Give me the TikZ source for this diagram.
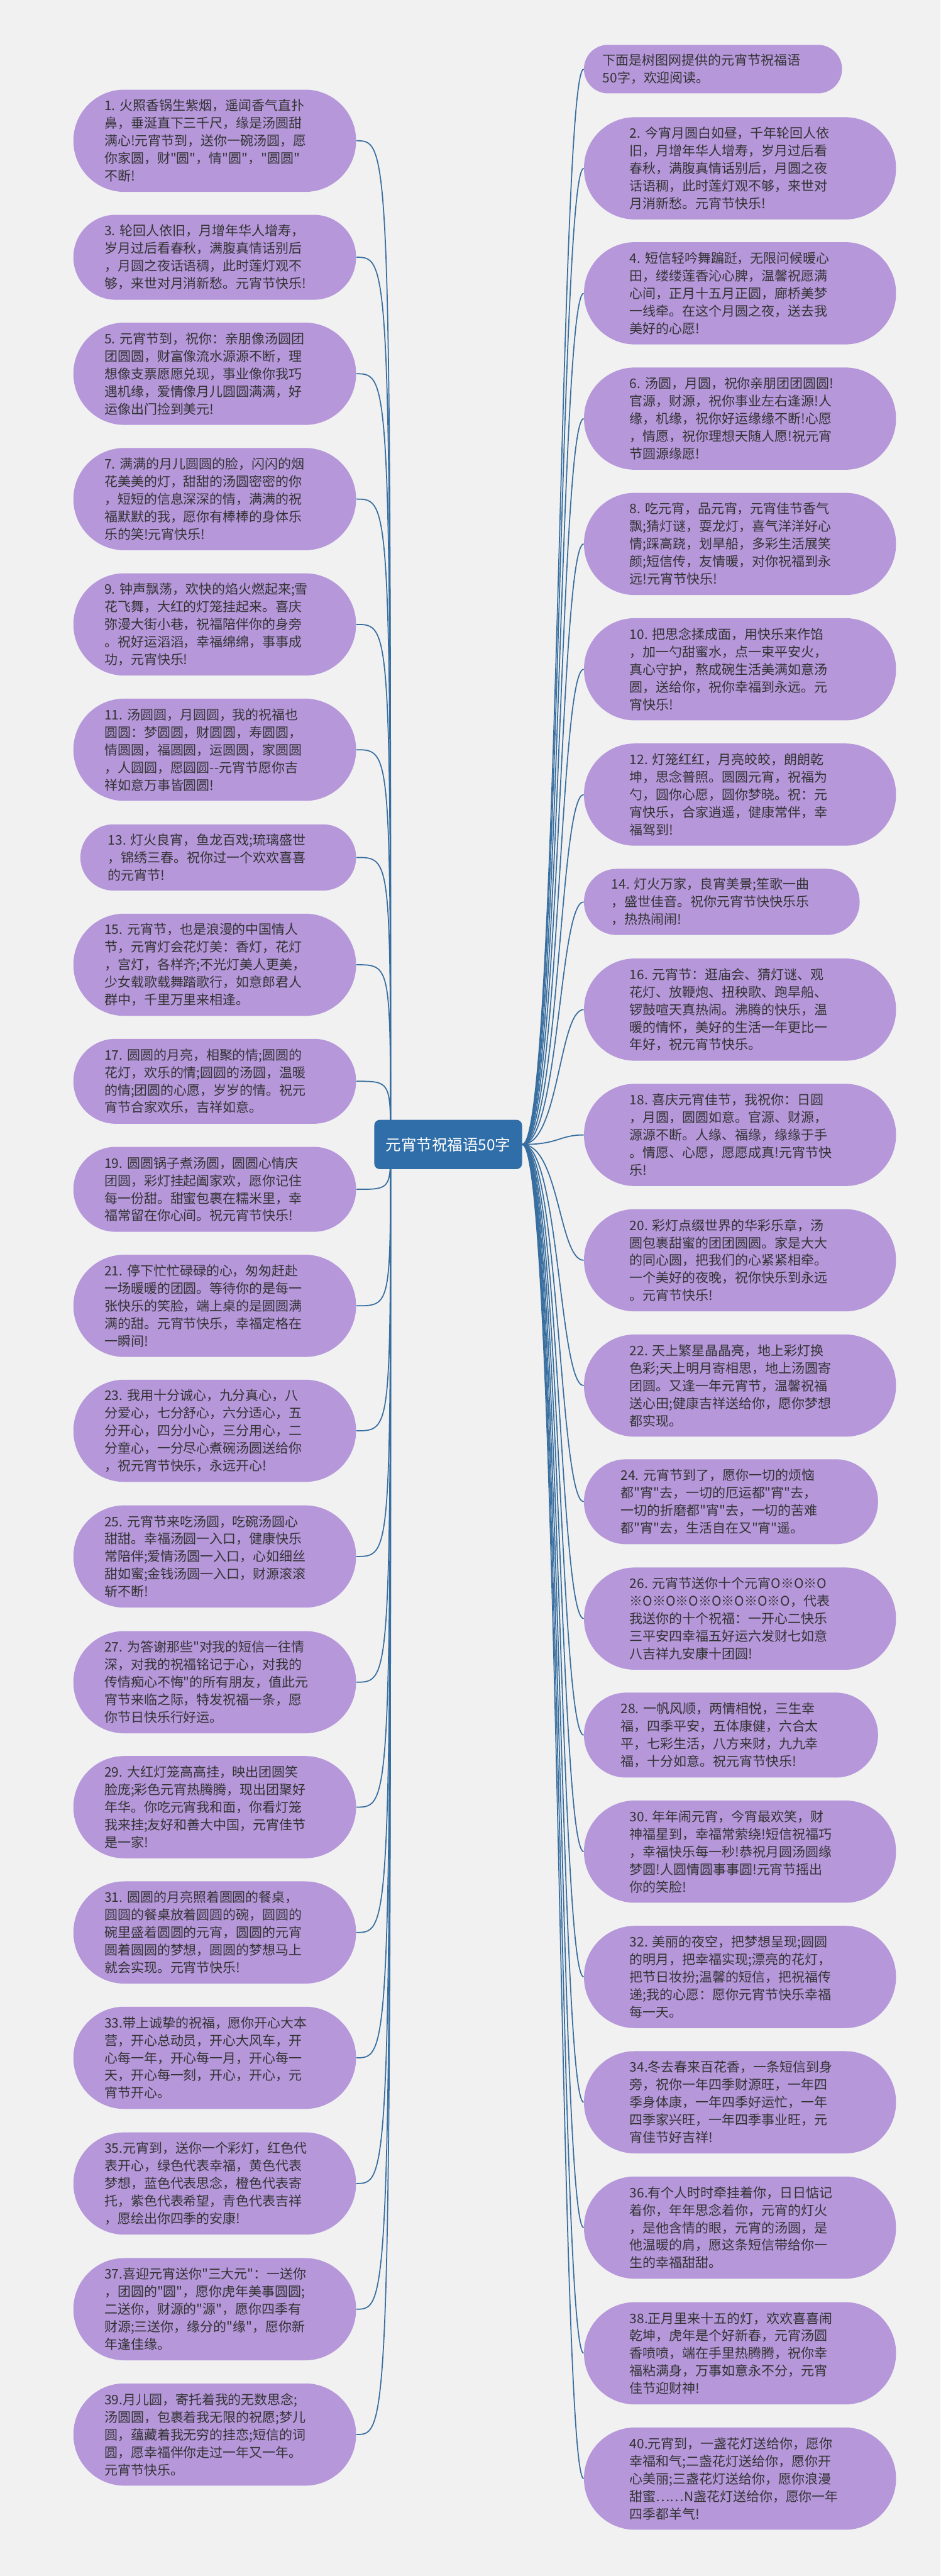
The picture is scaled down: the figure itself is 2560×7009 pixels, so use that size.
\documentclass[tikz,border=0pt]{standalone}
\usepackage{fontspec}
\setmainfont{Noto Sans CJK SC}[Ligatures=TeXOff]
\usetikzlibrary{backgrounds}
\definecolor{pagebg}{HTML}{F1F1F1}
\definecolor{wishfill}{HTML}{B597DA}
\definecolor{wishtext}{HTML}{333333}
\definecolor{rootblue}{HTML}{2F6EA8}
\definecolor{linkblue}{HTML}{386E9F}
\newcommand{\wishsize}{\fontsize{10.2pt}{13.6pt}\selectfont}
\newcommand{\rootsize}{\fontsize{11.9pt}{14pt}\selectfont}
\tikzset{
  wish/.style={rectangle, fill=wishfill, text=wishtext, text width=6cm, align=left, inner sep=0pt, font=\wishsize},
  lwish/.style={wish, anchor=east, minimum width=7.69cm},
  rwish/.style={wish, anchor=west, minimum width=8.49cm},
  twolines/.style={minimum height=1.32cm, rounded corners=0.655cm},
  threelines/.style={minimum height=1.8cm, rounded corners=0.895cm},
  fourlines/.style={minimum height=2.31cm, rounded corners=1.15cm},
  fivelines/.style={minimum height=2.78cm, rounded corners=1.385cm},
  root/.style={rectangle, rounded corners=0.15cm, fill=rootblue, text=white, minimum width=4.02cm, minimum height=1.34cm, font=\rootsize},
  link/.style={draw=linkblue, line width=0.03cm},
}

\begin{document}
\begin{tikzpicture}[x=0.01cm, y=-0.01cm]
    \useasboundingbox (0,0) rectangle (2560,7009);

    \node[root] (root) at (1220,3114) {元宵节祝福语50字};
    \coordinate (lhub) at ([xshift=0.45cm]root.west);
    \coordinate (rhub) at ([xshift=1cm]root.east);

    % left side
    \node[lwish, fivelines] (l1) at (970,383) {1.~火照香锅生紫烟，遥闻香气直扑\\鼻，垂涎直下三千尺，缘是汤圆甜\\满心!元宵节到，送你一碗汤圆，愿\\你家圆，财"圆"，情"圆"，"圆圆"\\不断!};
    \node[lwish, fourlines] (l3) at (970,700) {3.~轮回人依旧，月增年华人增寿，\\岁月过后看春秋，满腹真情话别后\\，月圆之夜话语稠，此时莲灯观不\\够，来世对月消新愁。元宵节快乐!};
    \node[lwish, fivelines] (l5) at (970,1017) {5.~元宵节到，祝你：亲朋像汤圆团\\团圆圆，财富像流水源源不断，理\\想像支票愿愿兑现，事业像你我巧\\遇机缘，爱情像月儿圆圆满满，好\\运像出门捡到美元!};
    \node[lwish, fivelines] (l7) at (970,1358) {7.~满满的月儿圆圆的脸，闪闪的烟\\花美美的灯，甜甜的汤圆密密的你\\，短短的信息深深的情，满满的祝\\福默默的我，愿你有棒棒的身体乐\\乐的笑!元宵快乐!};
    \node[lwish, fivelines] (l9) at (970,1699) {9.~钟声飘荡，欢快的焰火燃起来;雪\\花飞舞，大红的灯笼挂起来。喜庆\\弥漫大街小巷，祝福陪伴你的身旁\\。祝好运滔滔，幸福绵绵，事事成\\功，元宵快乐!};
    \node[lwish, fivelines] (l11) at (970,2040) {11.~汤圆圆，月圆圆，我的祝福也\\圆圆：梦圆圆，财圆圆，寿圆圆，\\情圆圆，福圆圆，运圆圆，家圆圆\\，人圆圆，愿圆圆-{}-元宵节愿你吉\\祥如意万事皆圆圆!};
    \node[lwish, threelines, minimum width=7.5cm] (l13) at (970,2333) {13.~灯火良宵，鱼龙百戏;琉璃盛世\\，锦绣三春。祝你过一个欢欢喜喜\\的元宵节!};
    \node[lwish, fivelines] (l15) at (970,2625) {15.~元宵节，也是浪漫的中国情人\\节，元宵灯会花灯美：香灯，花灯\\，宫灯，各样齐;不光灯美人更美，\\少女载歌载舞踏歌行，如意郎君人\\群中，千里万里来相逢。};
    \node[lwish, fourlines] (l17) at (970,2942) {17.~圆圆的月亮，相聚的情;圆圆的\\花灯，欢乐的情;圆圆的汤圆，温暖\\的情;团圆的心愿，岁岁的情。祝元\\宵节合家欢乐，吉祥如意。};
    \node[lwish, fourlines] (l19) at (970,3236) {19.~圆圆锅子煮汤圆，圆圆心情庆\\团圆，彩灯挂起阖家欢，愿你记住\\每一份甜。甜蜜包裹在糯米里，幸\\福常留在你心间。祝元宵节快乐!};
    \node[lwish, fivelines] (l21) at (970,3553) {21.~停下忙忙碌碌的心，匆匆赶赴\\一场暖暖的团圆。等待你的是每一\\张快乐的笑脸，端上桌的是圆圆满\\满的甜。元宵节快乐，幸福定格在\\一瞬间!};
    \node[lwish, fivelines] (l23) at (970,3893) {23.~我用十分诚心，九分真心，八\\分爱心，七分舒心，六分适心，五\\分开心，四分小心，三分用心，二\\分童心，一分尽心煮碗汤圆送给你\\，祝元宵节快乐，永远开心!};
    \node[lwish, fivelines] (l25) at (970,4235) {25.~元宵节来吃汤圆，吃碗汤圆心\\甜甜。幸福汤圆一入口，健康快乐\\常陪伴;爱情汤圆一入口，心如细丝\\甜如蜜;金钱汤圆一入口，财源滚滚\\斩不断!};
    \node[lwish, fivelines] (l27) at (970,4577) {27.~为答谢那些"对我的短信一往情\\深，对我的祝福铭记于心，对我的\\传情痴心不悔"的所有朋友，值此元\\宵节来临之际，特发祝福一条，愿\\你节日快乐行好运。};
    \node[lwish, fivelines] (l29) at (970,4917) {29.~大红灯笼高高挂，映出团圆笑\\脸庞;彩色元宵热腾腾，现出团聚好\\年华。你吃元宵我和面，你看灯笼\\我来挂;友好和善大中国，元宵佳节\\是一家!};
    \node[lwish, fivelines] (l31) at (970,5258) {31.~圆圆的月亮照着圆圆的餐桌，\\圆圆的餐桌放着圆圆的碗，圆圆的\\碗里盛着圆圆的元宵，圆圆的元宵\\圆着圆圆的梦想，圆圆的梦想马上\\就会实现。元宵节快乐!};
    \node[lwish, fivelines] (l33) at (970,5599) {33.带上诚挚的祝福，愿你开心大本\\营，开心总动员，开心大风车，开\\心每一年，开心每一月，开心每一\\天，开心每一刻，开心，开心，元\\宵节开心。};
    \node[lwish, fivelines] (l35) at (970,5941) {35.元宵到，送你一个彩灯，红色代\\表开心，绿色代表幸福，黄色代表\\梦想，蓝色代表思念，橙色代表寄\\托，紫色代表希望，青色代表吉祥\\，愿绘出你四季的安康!};
    \node[lwish, fivelines] (l37) at (970,6283) {37.喜迎元宵送你"三大元"：一送你\\，团圆的"圆"，愿你虎年美事圆圆;\\二送你，财源的"源"，愿你四季有\\财源;三送你，缘分的"缘"，愿你新\\年逢佳缘。};
    \node[lwish, fivelines] (l39) at (970,6624) {39.月儿圆，寄托着我的无数思念;\\汤圆圆，包裹着我无限的祝愿;梦儿\\圆，蕴藏着我无穷的挂恋;短信的词\\圆，愿幸福伴你走过一年又一年。\\元宵节快乐。};

    % right side
    \node[rwish, twolines, minimum width=7.02cm] (r0) at (1589,188) {下面是树图网提供的元宵节祝福语\\50字，欢迎阅读。};
    \node[rwish, fivelines] (r2) at (1589,458) {2.~今宵月圆白如昼，千年轮回人依\\旧，月增年华人增寿，岁月过后看\\春秋，满腹真情话别后，月圆之夜\\话语稠，此时莲灯观不够，来世对\\月消新愁。元宵节快乐!};
    \node[rwish, fivelines] (r4) at (1589,798) {4.~短信轻吟舞蹁跹，无限问候暖心\\田，缕缕莲香沁心脾，温馨祝愿满\\心间，正月十五月正圆，廊桥美梦\\一线牵。在这个月圆之夜，送去我\\美好的心愿!};
    \node[rwish, fivelines] (r6) at (1589,1139) {6.~汤圆，月圆，祝你亲朋团团圆圆!\\官源，财源，祝你事业左右逢源!人\\缘，机缘，祝你好运缘缘不断!心愿\\，情愿，祝你理想天随人愿!祝元宵\\节圆源缘愿!};
    \node[rwish, fivelines] (r8) at (1589,1480) {8.~吃元宵，品元宵，元宵佳节香气\\飘;猜灯谜，耍龙灯，喜气洋洋好心\\情;踩高跷，划旱船，多彩生活展笑\\颜;短信传，友情暖，对你祝福到永\\远!元宵节快乐!};
    \node[rwish, fivelines] (r10) at (1589,1821) {10.~把思念揉成面，用快乐来作馅\\，加一勺甜蜜水，点一束平安火，\\真心守护，熬成碗生活美满如意汤\\圆，送给你，祝你幸福到永远。元\\宵快乐!};
    \node[rwish, fivelines] (r12) at (1589,2162) {12.~灯笼红红，月亮皎皎，朗朗乾\\坤，思念普照。圆圆元宵，祝福为\\勺，圆你心愿，圆你梦晓。祝：元\\宵快乐，合家逍遥，健康常伴，幸\\福驾到!};
    \node[rwish, threelines, minimum width=7.5cm] (r14) at (1589,2454) {14.~灯火万家，良宵美景;笙歌一曲\\，盛世佳音。祝你元宵节快快乐乐\\，热热闹闹!};
    \node[rwish, fivelines] (r16) at (1589,2747) {16.~元宵节：逛庙会、猜灯谜、观\\花灯、放鞭炮、扭秧歌、跑旱船、\\锣鼓喧天真热闹。沸腾的快乐，温\\暖的情怀，美好的生活一年更比一\\年好，祝元宵节快乐。};
    \node[rwish, fivelines] (r18) at (1589,3088) {18.~喜庆元宵佳节，我祝你：日圆\\，月圆，圆圆如意。官源、财源，\\源源不断。人缘、福缘，缘缘于手\\。情愿、心愿，愿愿成真!元宵节快\\乐!};
    \node[rwish, fivelines] (r20) at (1589,3429) {20.~彩灯点缀世界的华彩乐章，汤\\圆包裹甜蜜的团团圆圆。家是大大\\的同心圆，把我们的心紧紧相牵。\\一个美好的夜晚，祝你快乐到永远\\。元宵节快乐!};
    \node[rwish, fivelines] (r22) at (1589,3770) {22.~天上繁星晶晶亮，地上彩灯换\\色彩;天上明月寄相思，地上汤圆寄\\团圆。又逢一年元宵节，温馨祝福\\送心田;健康吉祥送给你，愿你梦想\\都实现。};
    \node[rwish, fourlines, minimum width=8cm] (r24) at (1589,4086) {24.~元宵节到了，愿你一切的烦恼\\都"宵"去，一切的厄运都"宵"去，\\一切的折磨都"宵"去，一切的苦难\\都"宵"去，生活自在又"宵"遥。};
    \node[rwish, fivelines] (r26) at (1589,4404) {26.~元宵节送你十个元宵O※O※O\\※O※O※O※O※O※O※O，代表\\我送你的十个祝福：一开心二快乐\\三平安四幸福五好运六发财七如意\\八吉祥九安康十团圆!};
    \node[rwish, fourlines, minimum width=8cm] (r28) at (1589,4721) {28.~一帆风顺，两情相悦，三生幸\\福，四季平安，五体康健，六合太\\平，七彩生活，八方来财，九九幸\\福，十分如意。祝元宵节快乐!};
    \node[rwish, fivelines] (r30) at (1589,5038) {30.~年年闹元宵，今宵最欢笑，财\\神福星到，幸福常萦绕!短信祝福巧\\，幸福快乐每一秒!恭祝月圆汤圆缘\\梦圆!人圆情圆事事圆!元宵节摇出\\你的笑脸!};
    \node[rwish, fivelines] (r32) at (1589,5379) {32.~美丽的夜空，把梦想呈现;圆圆\\的明月，把幸福实现;漂亮的花灯，\\把节日妆扮;温馨的短信，把祝福传\\递;我的心愿：愿你元宵节快乐幸福\\每一天。};
    \node[rwish, fivelines] (r34) at (1589,5720) {34.冬去春来百花香，一条短信到身\\旁，祝你一年四季财源旺，一年四\\季身体康，一年四季好运忙，一年\\四季家兴旺，一年四季事业旺，元\\宵佳节好吉祥!};
    \node[rwish, fivelines] (r36) at (1589,6061) {36.有个人时时牵挂着你，日日惦记\\着你，年年思念着你，元宵的灯火\\，是他含情的眼，元宵的汤圆，是\\他温暖的肩，愿这条短信带给你一\\生的幸福甜甜。};
    \node[rwish, fivelines] (r38) at (1589,6403) {38.正月里来十五的灯，欢欢喜喜闹\\乾坤，虎年是个好新春，元宵汤圆\\香喷喷，端在手里热腾腾，祝你幸\\福粘满身，万事如意永不分，元宵\\佳节迎财神!};
    \node[rwish, fivelines] (r40) at (1589,6744) {40.元宵到，一盏花灯送给你，愿你\\幸福和气;二盏花灯送给你，愿你开\\心美丽;三盏花灯送给你，愿你浪漫\\甜蜜……N盏花灯送给你，愿你一年\\四季都羊气!};

    \begin{scope}[on background layer]
    \fill[pagebg] (0,0) rectangle (2560,7009);

    \draw[link] (lhub) .. controls (lhub |- l1.east) .. (l1.east);
    \draw[link] (lhub) .. controls (lhub |- l3.east) .. (l3.east);
    \draw[link] (lhub) .. controls (lhub |- l5.east) .. (l5.east);
    \draw[link] (lhub) .. controls (lhub |- l7.east) .. (l7.east);
    \draw[link] (lhub) .. controls (lhub |- l9.east) .. (l9.east);
    \draw[link] (lhub) .. controls (lhub |- l11.east) .. (l11.east);
    \draw[link] (lhub) .. controls (lhub |- l13.east) .. (l13.east);
    \draw[link] (lhub) .. controls (lhub |- l15.east) .. (l15.east);
    \draw[link] (lhub) .. controls (lhub |- l17.east) .. (l17.east);
    \draw[link] (lhub) .. controls (lhub |- l19.east) .. (l19.east);
    \draw[link] (lhub) .. controls (lhub |- l21.east) .. (l21.east);
    \draw[link] (lhub) .. controls (lhub |- l23.east) .. (l23.east);
    \draw[link] (lhub) .. controls (lhub |- l25.east) .. (l25.east);
    \draw[link] (lhub) .. controls (lhub |- l27.east) .. (l27.east);
    \draw[link] (lhub) .. controls (lhub |- l29.east) .. (l29.east);
    \draw[link] (lhub) .. controls (lhub |- l31.east) .. (l31.east);
    \draw[link] (lhub) .. controls (lhub |- l33.east) .. (l33.east);
    \draw[link] (lhub) .. controls (lhub |- l35.east) .. (l35.east);
    \draw[link] (lhub) .. controls (lhub |- l37.east) .. (l37.east);
    \draw[link] (lhub) .. controls (lhub |- l39.east) .. (l39.east);

    \draw[link] (root.east) .. controls (rhub) and (rhub |- r0.west) .. (r0.west);
    \draw[link] (root.east) .. controls (rhub) and (rhub |- r2.west) .. (r2.west);
    \draw[link] (root.east) .. controls (rhub) and (rhub |- r4.west) .. (r4.west);
    \draw[link] (root.east) .. controls (rhub) and (rhub |- r6.west) .. (r6.west);
    \draw[link] (root.east) .. controls (rhub) and (rhub |- r8.west) .. (r8.west);
    \draw[link] (root.east) .. controls (rhub) and (rhub |- r10.west) .. (r10.west);
    \draw[link] (root.east) .. controls (rhub) and (rhub |- r12.west) .. (r12.west);
    \draw[link] (root.east) .. controls (rhub) and (rhub |- r14.west) .. (r14.west);
    \draw[link] (root.east) .. controls (rhub) and (rhub |- r16.west) .. (r16.west);
    \draw[link] (root.east) .. controls (rhub) and (rhub |- r18.west) .. (r18.west);
    \draw[link] (root.east) .. controls (rhub) and (rhub |- r20.west) .. (r20.west);
    \draw[link] (root.east) .. controls (rhub) and (rhub |- r22.west) .. (r22.west);
    \draw[link] (root.east) .. controls (rhub) and (rhub |- r24.west) .. (r24.west);
    \draw[link] (root.east) .. controls (rhub) and (rhub |- r26.west) .. (r26.west);
    \draw[link] (root.east) .. controls (rhub) and (rhub |- r28.west) .. (r28.west);
    \draw[link] (root.east) .. controls (rhub) and (rhub |- r30.west) .. (r30.west);
    \draw[link] (root.east) .. controls (rhub) and (rhub |- r32.west) .. (r32.west);
    \draw[link] (root.east) .. controls (rhub) and (rhub |- r34.west) .. (r34.west);
    \draw[link] (root.east) .. controls (rhub) and (rhub |- r36.west) .. (r36.west);
    \draw[link] (root.east) .. controls (rhub) and (rhub |- r38.west) .. (r38.west);
    \draw[link] (root.east) .. controls (rhub) and (rhub |- r40.west) .. (r40.west);
    \end{scope}
\end{tikzpicture}
\end{document}
